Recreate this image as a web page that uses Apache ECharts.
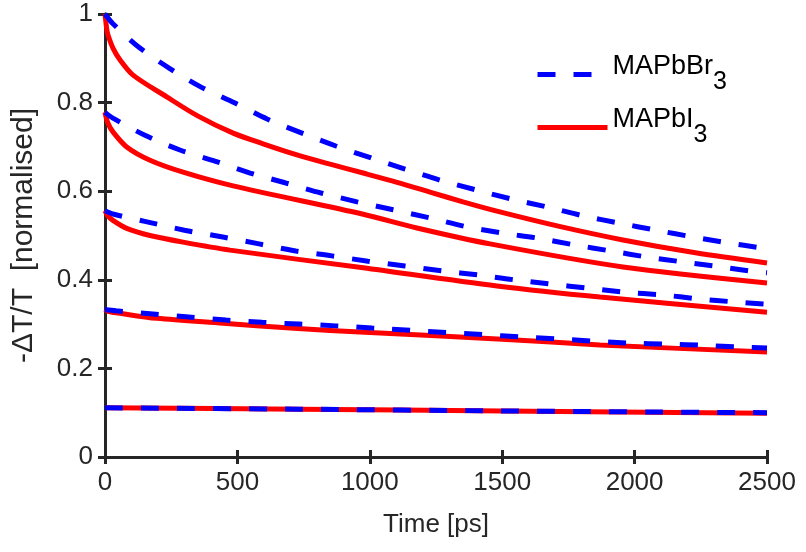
<!DOCTYPE html>
<html><head><meta charset="utf-8">
<script src="https://cdn.jsdelivr.net/npm/echarts@6/dist/echarts.min.js"></script>
<style>html,body{margin:0;padding:0;background:#fff}#c{width:806px;height:552px}</style>
</head><body><div id="c"></div>
<script>
// Time axis ticks
const xTicks = [0, 500, 1000, 1500, 2000, 2500];
const yTicks = [0, 0.2, 0.4, 0.6, 0.8, 1];

// MAPbBr3 (blue dashed) curves
const brT1 = [0, 30, 128, 242, 363, 491, 612, 744, 872, 1005, 1133, 1265, 1401, 1537, 1673, 1809, 1941, 2081, 2217, 2357, 2500];
const brV1 = [1.0, 0.978, 0.925, 0.878, 0.835, 0.799, 0.763, 0.731, 0.702, 0.675, 0.650, 0.625, 0.603, 0.582, 0.564, 0.544, 0.528, 0.512, 0.497, 0.483, 0.470];
const brT2 = [0, 30, 155, 283, 415, 548, 680, 816, 952, 1088, 1224, 1356, 1496, 1635, 1771, 1911, 2051, 2187, 2326, 2462, 2500];
const brV2 = [0.778, 0.765, 0.725, 0.693, 0.668, 0.641, 0.619, 0.596, 0.576, 0.558, 0.540, 0.521, 0.506, 0.494, 0.479, 0.465, 0.451, 0.440, 0.429, 0.418, 0.416];
const brT3 = [0, 34, 150, 300, 450, 582, 721, 857, 993, 1133, 1273, 1409, 1545, 1964, 2103, 2240, 2379, 2500];
const brV3 = [0.556, 0.548, 0.532, 0.512, 0.496, 0.481, 0.465, 0.454, 0.442, 0.431, 0.420, 0.411, 0.400, 0.372, 0.366, 0.357, 0.350, 0.345];
const brT4 = [0, 42, 181, 317, 457, 593, 733, 872, 1008, 1986, 2122, 2262, 2402, 2500];
const brV4 = [0.333, 0.330, 0.323, 0.316, 0.309, 0.304, 0.300, 0.296, 0.291, 0.257, 0.255, 0.252, 0.248, 0.246];
const brT5 = [0, 736, 1500, 2500];
const brV5 = [0.111, 0.108, 0.104, 0.100];

// MAPbI3 (red solid) curves
const iT1 = [0, 7, 11, 30, 57, 106, 233, 350, 484, 597, 725, 850, 975, 1103, 1227, 1352, 1480, 1720, 1956, 2230, 2500];
const iV1 = [1.0, 0.964, 0.953, 0.923, 0.896, 0.862, 0.813, 0.770, 0.731, 0.707, 0.682, 0.661, 0.641, 0.620, 0.598, 0.576, 0.555, 0.520, 0.490, 0.461, 0.438];
const iT2 = [0, 10, 30, 82, 170, 295, 484, 975, 1178, 1454, 1956, 2500];
const iV2 = [0.778, 0.755, 0.734, 0.700, 0.670, 0.643, 0.612, 0.548, 0.517, 0.481, 0.429, 0.393];
const iT3 = [0, 10, 30, 82, 170, 295, 472, 975, 1480, 1869, 2500];
const iV3 = [0.556, 0.545, 0.534, 0.516, 0.500, 0.485, 0.467, 0.427, 0.386, 0.361, 0.327];
const iT4 = [0, 10, 50, 196, 446, 699, 1000, 1500, 1869, 2500];
const iV4 = [0.333, 0.329, 0.325, 0.313, 0.302, 0.291, 0.281, 0.266, 0.253, 0.237];
const iT5 = [0, 736, 1500, 2500];
const iV5 = [0.111, 0.108, 0.104, 0.099];

const brCurves = [[brT1, brV1], [brT2, brV2], [brT3, brV3], [brT4, brV4], [brT5, brV5]];
const iCurves = [[iT1, iV1], [iT2, iV2], [iT3, iV3], [iT4, iV4], [iT5, iV5]];

const FONT = 'Liberation Sans, Arial, Helvetica, sans-serif';
const AX = '#262626';
const pair = (t, v) => t.map((x, i) => [x, v[i]]);

const series = [];
iCurves.forEach(([t, v]) => series.push({
  name: 'MAPbI3', type: 'line', data: pair(t, v), showSymbol: false, symbol: 'none',
  smooth: 0.3, xAxisIndex: 0, yAxisIndex: 0, z: 2,
  lineStyle: { color: '#ff0000', width: 5, type: 'solid' }, itemStyle: { color: '#ff0000' }
}));
brCurves.forEach(([t, v]) => series.push({
  name: 'MAPbBr3', type: 'line', data: pair(t, v), showSymbol: false, symbol: 'none',
  smooth: 0.3, xAxisIndex: 0, yAxisIndex: 0, z: 3,
  lineStyle: { color: '#0000ff', width: 5, type: [18, 18] }, itemStyle: { color: '#0000ff' }
}));

const axLine = { show: true, lineStyle: { color: AX, width: 3 } };
const axTick = { show: true, inside: true, length: 7, lineStyle: { color: AX, width: 3 } };

const chart = echarts.init(document.getElementById('c'), null, { renderer: 'canvas' });
chart.setOption({
  animation: false,
  backgroundColor: '#ffffff',
  grid: { left: 105, right: 39, top: 14, bottom: 95, containLabel: false },
  legend: {
    data: ['MAPbBr3', 'MAPbI3'],
    orient: 'vertical', left: 530, top: 48, itemWidth: 70, itemHeight: 10, itemGap: 11,
    lineStyle: { width: 5 },
    itemStyle: { opacity: 0 },
    formatter: n => n === 'MAPbBr3' ? '{a|MAPbBr}{s|3}' : '{a|MAPbI}{s|3}',
    textStyle: {
      fontFamily: FONT, color: '#000',
      rich: {
        a: { fontFamily: FONT, fontSize: 27, color: '#000', padding: [0, 0, 16, 0] },
        s: { fontFamily: FONT, fontSize: 25, color: '#000', padding: [16, 0, 0, 0] }
      }
    }
  },
  xAxis: [{
    type: 'value', min: 0, max: 2500, interval: 500, position: 'bottom',
    name: 'Time [ps]', nameLocation: 'middle', nameGap: 55,
    nameTextStyle: { fontFamily: FONT, fontSize: 26, color: AX },
    axisLine: axLine, axisTick: axTick, splitLine: { show: false },
    axisLabel: { fontFamily: FONT, fontSize: 26, color: AX, margin: 13,
      formatter: v => xTicks.includes(v) ? String(v) : '' }
  }, {
    type: 'value', min: 0, max: 2500, interval: 500, position: 'top',
    axisLine: axLine, axisTick: axTick, splitLine: { show: false }, axisLabel: { show: false }
  }],
  yAxis: [{
    type: 'value', min: 0, max: 1, interval: 0.2, position: 'left',
    name: '-\u0394T/T  [normalised]', nameLocation: 'middle', nameGap: 66,
    nameTextStyle: { fontFamily: FONT, fontSize: 30, color: AX },
    axisLine: axLine, axisTick: axTick, splitLine: { show: false },
    axisLabel: { fontFamily: FONT, fontSize: 26, color: AX, margin: 12,
      formatter: v => { const r = Math.round(v * 10) / 10; return yTicks.includes(r) ? String(r) : ''; } }
  }, {
    type: 'value', min: 0, max: 1, interval: 0.2, position: 'right',
    axisLine: axLine, axisTick: axTick, splitLine: { show: false }, axisLabel: { show: false }
  }],
  series: series
});
</script></body></html>
